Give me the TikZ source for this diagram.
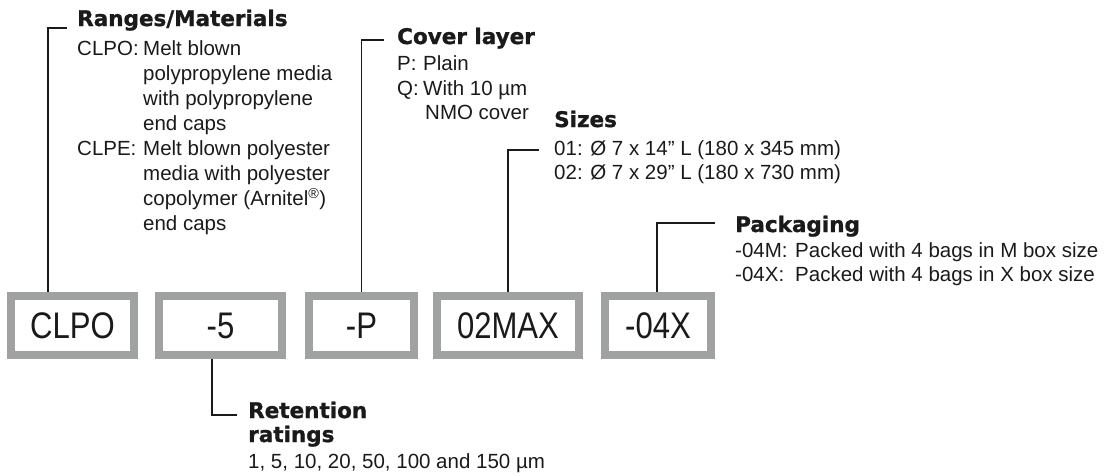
\documentclass[tikz,border=0pt]{standalone}
\usepackage{fontspec}
\setmainfont{Liberation Sans}
\newfontfamily\boxfont[FakeStretch=0.84]{Liberation Sans}
\newfontfamily\headfont[FakeBold=1.2]{DejaVu Sans Bold}
\definecolor{boxgrey}{RGB}{160,162,161}
\definecolor{ink}{RGB}{26,26,26}
\begin{document}
\begin{tikzpicture}[x=1pt,y=-1pt,
  codebox/.style={draw=boxgrey, line width=7.7pt, fill=white, inner sep=0pt,
    outer sep=3.85pt, minimum height=59.3pt,
    font=\boxfont\fontsize{37}{40}\selectfont, text=ink},
  conn/.style={draw=ink, line width=1.7pt},
  head/.style={anchor=base west, inner sep=0pt,
    font=\headfont\fontsize{21.5}{24}\selectfont, text=ink},
  body/.style={anchor=base west, inner sep=0pt,
    font=\fontsize{20.5}{24}\selectfont, text=ink}]
\useasboundingbox (0,0) rectangle (1113,475);

% code boxes
\node[codebox, minimum width=123.3pt] (clpo) at (72.5,325.5) {CLPO};
\node[codebox, minimum width=123.3pt] (five) at (220.5,325.5) {-5};
\node[codebox, minimum width=105.3pt] (plain) at (361.5,325.5) {-P};
\node[codebox, minimum width=142.3pt] (max) at (508,325.5) {02MAX};
\node[codebox, minimum width=106.3pt] (pack) at (658,325.5) {-04X};

% Ranges/Materials
\coordinate (rmend) at (67,28);
\draw[conn] ([xshift=-24.5pt]clpo.north) |- (rmend);
\node[head] (rmhead) at (77,26) {Ranges/Materials};
\node[body] (rmA) at (77,55) {CLPO:};
\node[body] (rmB) at (77,155.4) {CLPE:};
\node[body] (rm1) at (143,55) {Melt blown};
\node[body] (rm2) at (143,80.1) {polypropylene media};
\node[body] (rm3) at (143,105.2) {with polypropylene};
\node[body] (rm4) at (143,130.3) {end caps};
\node[body] (rm5) at (143,155.4) {Melt blown polyester};
\node[body] (rm6) at (143,180.5) {media with polyester};
\node[body] (rm7) at (143,205.6) {copolymer (Arnitel\textsuperscript{®})};
\node[body] (rm8) at (143,230.7) {end caps};

% Cover layer
\coordinate (covend) at (384,40);
\draw[conn] (plain.north) |- (covend);
\node[head] (covhead) at (397,44) {Cover layer};
\node[body] (covA) at (397,70) {P:};
\node[body] (covB) at (397,95) {Q:};
\node[body] (cov1) at (423,70) {Plain};
\node[body] (cov2) at (423,95) {With 10 µm};
\node[body] (cov3) at (425,119) {NMO cover};

% Sizes
\coordinate (sizend) at (539,150);
\draw[conn] (max.north) |- (sizend);
\node[head] (sizhead) at (554,127) {Sizes};
\node[body] (siz1) at (554,155) {01: Ø 7 x 14” L (180 x 345 mm)};
\node[body] (siz2) at (554,179) {02: Ø 7 x 29” L (180 x 730 mm)};

% Packaging
\coordinate (packend) at (715,223);
\draw[conn] ([xshift=-1pt]pack.north) |- (packend);
\node[head] (pakhead) at (735,232) {Packaging};
\node[body] (pakA) at (735,257) {-04M:};
\node[body] (pakB) at (735,281) {-04X:};
\node[body] (pak1) at (795,257) {Packed with 4 bags in M box size};
\node[body] (pak2) at (795,281) {Packed with 4 bags in X box size};

% Retention ratings
\coordinate (retend) at (237,415);
\draw[conn] ([xshift=-8.5pt]five.south) |- (retend);
\node[head] (rethead1) at (248,418) {Retention};
\node[head] (rethead2) at (248,442) {ratings};
\node[body] (ret1) at (248,468) {1, 5, 10, 20, 50, 100 and 150 µm};
\end{tikzpicture}
\end{document}
